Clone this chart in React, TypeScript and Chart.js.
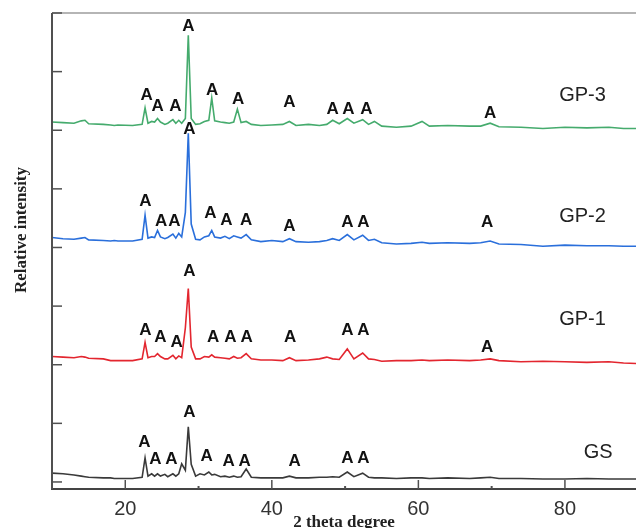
import React, { useEffect, useRef } from "react";
import { Chart, registerables } from "chart.js";

Chart.register(...registerables);

// 2 theta (degree)
const twoTheta = [
  10, 11.5, 13, 14, 14.5, 15, 17, 18, 18.5, 19,
  21, 22.3, 22.7, 23.1, 23.6, 24.0, 24.4, 24.8, 25.4, 25.8,
  26.5, 26.9, 27.3, 27.7, 28.2, 28.6, 29.0, 29.6, 30.2, 30.8,
  31.4, 31.8, 32.2, 33.0, 33.6, 34.2, 34.8, 35.3, 35.8, 36.5,
  37.2, 38.5, 40, 41.5, 42.4, 43.3, 45, 46.5, 47.5, 48.3,
  49.2, 50.3, 51.2, 52.4, 53.2, 54, 55, 57, 59, 60.5,
  61.5, 64, 67, 68.5, 69.8, 71, 74, 77, 80, 83,
  86, 88, 90,
];

// relative intensity (stacked with offsets as in the figure)
const gs = [
  0.15, 0.14, 0.12, 0.1, 0.09, 0.08, 0.07, 0.07, 0.06, 0.06,
  0.06, 0.08, 0.41, 0.1, 0.14, 0.1, 0.14, 0.1, 0.13, 0.09,
  0.14, 0.1, 0.14, 0.31, 0.2, 0.94, 0.3, 0.1, 0.14, 0.12,
  0.17, 0.12, 0.13, 0.09, 0.1, 0.08, 0.1, 0.08, 0.09, 0.22,
  0.08, 0.07, 0.07, 0.07, 0.1, 0.07, 0.07, 0.08, 0.08, 0.09,
  0.08, 0.17, 0.09, 0.15, 0.08, 0.07, 0.07, 0.06, 0.07, 0.07,
  0.06, 0.07, 0.06, 0.07, 0.08, 0.06, 0.06, 0.05, 0.05, 0.06,
  0.05, 0.05, 0.05,
];
const gp1 = [
  2.14, 2.13, 2.12, 2.14, 2.13, 2.11, 2.1, 2.07, 2.07, 2.07,
  2.07, 2.1, 2.38, 2.12, 2.14, 2.14, 2.19, 2.14, 2.1, 2.1,
  2.16, 2.1, 2.15, 2.12, 2.63, 3.3, 2.3, 2.1, 2.1, 2.14,
  2.13, 2.17, 2.13, 2.12, 2.11, 2.1, 2.14, 2.11, 2.12, 2.19,
  2.1, 2.08, 2.08, 2.07, 2.12, 2.07, 2.08, 2.1, 2.13, 2.1,
  2.09, 2.27, 2.1, 2.2, 2.1, 2.09, 2.06, 2.07, 2.07, 2.08,
  2.07, 2.08, 2.07, 2.08, 2.1, 2.07, 2.05, 2.06, 2.05, 2.04,
  2.05, 2.03, 2.02,
];
const gp2 = [
  4.17, 4.15, 4.14, 4.16, 4.17, 4.13, 4.12, 4.11, 4.12, 4.11,
  4.11, 4.14, 4.55, 4.16, 4.18, 4.17, 4.29, 4.18, 4.15, 4.17,
  4.23, 4.16, 4.24, 4.18, 4.6, 5.95, 4.4, 4.14, 4.13, 4.18,
  4.2, 4.29, 4.18, 4.16, 4.19, 4.15, 4.2, 4.18, 4.16, 4.22,
  4.13, 4.1, 4.12, 4.1, 4.15, 4.1, 4.09, 4.1, 4.12, 4.15,
  4.12, 4.22, 4.13, 4.21, 4.12, 4.14, 4.08, 4.06, 4.07, 4.09,
  4.07, 4.08, 4.07, 4.08, 4.11, 4.06, 4.05, 4.02, 4.04, 4.03,
  4.03, 4.02, 4.02,
];
const gp3 = [
  6.14, 6.13, 6.12, 6.16, 6.17, 6.11, 6.1, 6.09, 6.08, 6.09,
  6.08, 6.1, 6.38, 6.12, 6.15, 6.14, 6.2, 6.14, 6.1, 6.12,
  6.18, 6.12, 6.17, 6.12, 6.2, 7.62, 6.2, 6.1, 6.11, 6.15,
  6.17, 6.55, 6.16, 6.14, 6.13, 6.12, 6.14, 6.36, 6.13, 6.15,
  6.1, 6.08, 6.09, 6.1, 6.15, 6.08, 6.1, 6.08, 6.1, 6.17,
  6.11, 6.2, 6.12, 6.18, 6.1, 6.15, 6.07, 6.05, 6.07, 6.15,
  6.07, 6.08, 6.07, 6.07, 6.12, 6.06, 6.05, 6.03, 6.05, 6.04,
  6.05, 6.03, 6.03,
];

// "A" peak marks
const gsMarkX = [22.6, 24.1, 26.3, 28.75, 31.1, 34.1, 36.3, 43.1, 50.3, 52.5];
const gsMarkY = [0.68, 0.38, 0.38, 1.18, 0.44, 0.36, 0.36, 0.36, 0.41, 0.41];
const gp1MarkX = [22.75, 24.8, 27.0, 28.75, 32.0, 34.35, 36.55, 42.5, 50.3, 52.5, 69.4];
const gp1MarkY = [2.58, 2.46, 2.39, 3.59, 2.46, 2.46, 2.46, 2.46, 2.58, 2.58, 2.29];
const gp2MarkX = [22.75, 24.9, 26.7, 28.75, 31.6, 33.8, 36.5, 42.4, 50.3, 52.5, 69.4];
const gp2MarkY = [4.79, 4.44, 4.44, 6.02, 4.58, 4.46, 4.46, 4.36, 4.43, 4.43, 4.43];
const gp3MarkX = [22.9, 24.4, 26.85, 28.6, 31.85, 35.4, 42.4, 48.3, 50.45, 52.9, 69.8];
const gp3MarkY = [6.6, 6.41, 6.41, 7.78, 6.68, 6.53, 6.48, 6.36, 6.36, 6.36, 6.29];

const seriesNames = ["GS", "GP-1", "GP-2", "GP-3"];
const seriesLabelX = [84.55, 82.4, 82.4, 82.4];
const seriesLabelY = [0.5, 2.77, 4.53, 6.6];

const yTickValues = [0, 1, 2, 3, 4, 5, 6, 7, 8];
const xMajorTicks = [20, 40, 60, 80];
const xMinorTicks = [30, 50, 70];

const colors = ["#3a3a3a", "#e3262f", "#2a6fdb", "#45ab6d"];

const overlay = {
  id: "overlay",
  afterDraw(chart: any) {
    const { ctx, chartArea: a } = chart;
    const x = chart.scales.x;
    const y = chart.scales.y;
    ctx.save();
    const line = (x1: number, y1: number, x2: number, y2: number) => {
      ctx.beginPath();
      ctx.moveTo(x1, y1);
      ctx.lineTo(x2, y2);
      ctx.stroke();
    };
    ctx.strokeStyle = "#9c9c9c";
    ctx.lineWidth = 1.5;
    line(a.left, a.top, 636, a.top);
    ctx.strokeStyle = "#505050";
    ctx.lineWidth = 2;
    line(a.left, a.top, a.left, a.bottom);
    ctx.lineWidth = 1.5;
    yTickValues.forEach((v) => {
      const py = y.getPixelForValue(v);
      line(a.left, py, a.left + 10, py);
    });
    xMajorTicks.forEach((v) => {
      const px = x.getPixelForValue(v);
      line(px, a.bottom, px, a.bottom - 9);
    });
    ctx.lineWidth = 2;
    xMinorTicks.forEach((v) => {
      const px = x.getPixelForValue(v);
      line(px, a.bottom, px, a.bottom - 3);
    });

    ctx.fillStyle = "#111";
    ctx.textAlign = "center";
    ctx.textBaseline = "middle";
    ctx.font = "bold 17px 'Liberation Sans', Arial, sans-serif";
    const marks: [number[], number[]][] = [
      [gsMarkX, gsMarkY],
      [gp1MarkX, gp1MarkY],
      [gp2MarkX, gp2MarkY],
      [gp3MarkX, gp3MarkY],
    ];
    marks.forEach(([mx, my]) => {
      mx.forEach((v, i) => {
        ctx.fillText("A", x.getPixelForValue(v), y.getPixelForValue(my[i]));
      });
    });

    ctx.fillStyle = "#222";
    ctx.font = "20px 'Liberation Sans', Arial, sans-serif";
    seriesNames.forEach((n, i) => {
      ctx.fillText(n, x.getPixelForValue(seriesLabelX[i]), y.getPixelForValue(seriesLabelY[i]));
    });

    ctx.font = "bold 17px 'Liberation Serif', 'Times New Roman', serif";
    ctx.fillStyle = "#222";
    ctx.textBaseline = "alphabetic";
    ctx.fillText("2 theta degree", (a.left + 636) / 2, 527);
    ctx.translate(26, 230);
    ctx.rotate(-Math.PI / 2);
    ctx.fillText("Relative intensity", 0, 0);
    ctx.restore();
  },
};

export default function App() {
  const ref = useRef<HTMLCanvasElement | null>(null);
  useEffect(() => {
    document.body.style.margin = "0";
    if (!ref.current) return;
    const mk = (label: string, data: number[], color: string) => ({
      label,
      data: twoTheta.map((t, i) => ({ x: t, y: data[i] })),
      borderColor: color,
      borderWidth: 1.6,
      pointRadius: 0,
      tension: 0,
      fill: false,
    });
    const chart = new Chart(ref.current, {
      type: "line",
      data: {
        datasets: [
          mk("GS", gs, colors[0]),
          mk("GP-1", gp1, colors[1]),
          mk("GP-2", gp2, colors[2]),
          mk("GP-3", gp3, colors[3]),
        ],
      },
      options: {
        animation: false,
        responsive: false,
        parsing: false as any,
        layout: { padding: { left: 52, top: 13, right: 0, bottom: 7 } },
        plugins: { legend: { display: false }, tooltip: { enabled: false } },
        scales: {
          x: {
            type: "linear",
            min: 10,
            max: 89.7,
            grid: { display: false },
            border: { display: true, color: "#444", width: 2 },
            ticks: {
              stepSize: 10,
              padding: 0,
              color: "#333",
              font: { family: "'Liberation Sans', Arial, sans-serif", size: 20 },
              callback: (v: any) => (Number(v) % 20 === 0 ? String(v) : ""),
              maxRotation: 0,
              autoSkip: false,
            },
          },
          y: {
            type: "linear",
            display: false,
            min: -0.12,
            max: 8,
          },
        },
      },
      plugins: [overlay],
    });
    return () => chart.destroy();
  }, []);
  return (
    <div style={{ width: 636, height: 528 }}>
      <canvas ref={ref} width={636} height={528} style={{ display: "block" }} />
    </div>
  );
}
